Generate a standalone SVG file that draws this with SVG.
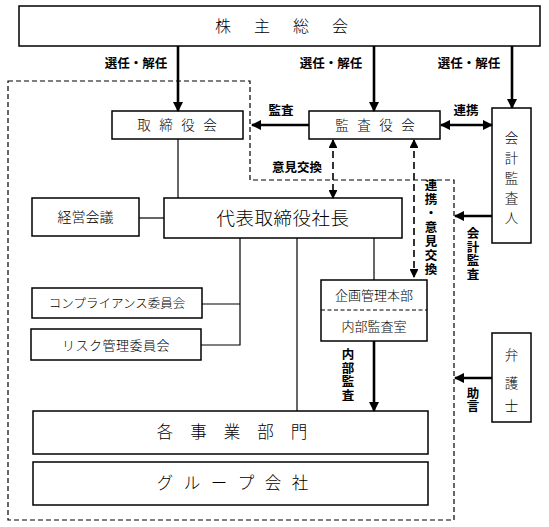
<svg xmlns="http://www.w3.org/2000/svg" width="549" height="527" viewBox="0 0 549 527">
<style>
.box{fill:#fff;stroke:#000;stroke-width:1.5}
.nt{font-family:"Noto Sans CJK JP","Noto Sans",sans-serif;font-weight:300;fill:#000}
.lb{font-family:"Noto Sans CJK JP","Noto Sans",sans-serif;font-weight:700;font-size:12.5px;fill:#000}
.vt{writing-mode:vertical-rl;text-orientation:upright}
.thin{stroke:#000;stroke-width:1.2;fill:none}
.thick{stroke:#000;stroke-width:2.6;fill:none}
.dash{stroke:#000;stroke-width:1.6;fill:none;stroke-dasharray:7,4}
.outline{stroke:#000;stroke-width:1.2;fill:none;stroke-dasharray:5,3}
</style>
<defs>
<marker id="ah" viewBox="0 0 10 10" refX="9" refY="5" markerWidth="4" markerHeight="4" orient="auto-start-reverse" markerUnits="strokeWidth"><path d="M0,0 L10,5 L0,10 z" fill="#000"/></marker>
<marker id="ahd" viewBox="0 0 10 10" refX="9" refY="5" markerWidth="5.5" markerHeight="5.5" orient="auto-start-reverse" markerUnits="strokeWidth"><path d="M0,0 L10,5 L0,10 z" fill="#000"/></marker>
</defs>

<path class="outline" d="M8,81 H250 V180 H454 V520 H8 Z"/>

<g id="kabunushi"><rect class="box" x="19" y="6" width="521" height="40"/><text class="nt" font-size="16" x="223 262 301 340" y="32" text-anchor="middle">株主総会</text></g>
<g id="torishimariyakukai"><rect class="box" x="112" y="111" width="131" height="28"/><text class="nt" font-size="13.5" x="144 166 188 210" y="130" text-anchor="middle">取締役会</text></g>
<g id="kansayakukai"><rect class="box" x="309" y="111" width="131" height="28"/><text class="nt" font-size="13.5" x="342 364 386 408" y="130" text-anchor="middle">監査役会</text></g>
<g id="kaikeikansanin"><rect class="box" x="492" y="108" width="39" height="135"/><text class="nt" font-size="13.5" text-anchor="middle"><tspan x="511.5" y="143">会</tspan><tspan x="511.5" y="163">計</tspan><tspan x="511.5" y="183">監</tspan><tspan x="511.5" y="203">査</tspan><tspan x="511.5" y="223">人</tspan></text></g>
<g id="keieikaigi"><rect class="box" x="32" y="198" width="107" height="38"/><text class="nt" font-size="14" x="85.5" y="222" text-anchor="middle">経営会議</text></g>
<g id="daihyo"><rect class="box" x="164" y="198" width="238" height="40"/><text class="nt" font-size="18.5" x="283" y="225" text-anchor="middle" letter-spacing="0.5">代表取締役社長</text></g>
<g id="compliance"><rect class="box" x="32" y="288" width="170" height="30"/><text class="nt" font-size="12.5" x="117" y="308" text-anchor="middle">コンプライアンス委員会</text></g>
<g id="risk"><rect class="box" x="31" y="329" width="170" height="31"/><text class="nt" font-size="13" x="116" y="349.5" text-anchor="middle" letter-spacing="0.5">リスク管理委員会</text></g>
<g id="kikaku"><rect class="box" x="321" y="280" width="106" height="61"/><line x1="321" y1="310" x2="427" y2="310" stroke="#000" stroke-width="1.2" stroke-dasharray="4,2.5"/><text class="nt" font-size="13" x="374" y="300" text-anchor="middle">企画管理本部</text><text class="nt" font-size="13" x="374" y="331" text-anchor="middle">内部監査室</text></g>
<g id="jigyobumon"><rect class="box" x="33" y="411" width="395" height="43"/><text class="nt" font-size="16.5" x="165 198.5 232 265.5 299" y="438" text-anchor="middle">各事業部門</text></g>
<g id="group"><rect class="box" x="33" y="462" width="395" height="43"/><text class="nt" font-size="16.5" x="165 192 219 246 273 300" y="489" text-anchor="middle">グループ会社</text></g>
<g id="bengoshi"><rect class="box" x="492" y="333" width="39" height="89"/><text class="nt" font-size="13.5" text-anchor="middle"><tspan x="511.5" y="360">弁</tspan><tspan x="511.5" y="388">護</tspan><tspan x="511.5" y="411">士</tspan></text></g>

<g id="connectors">
<line class="thick" x1="178" y1="46" x2="178" y2="111" marker-end="url(#ah)"/>
<line class="thick" x1="374" y1="46" x2="374" y2="111" marker-end="url(#ah)"/>
<line class="thick" x1="512" y1="46" x2="512" y2="108" marker-end="url(#ah)"/>
<line class="thick" x1="309" y1="125" x2="252" y2="125" marker-end="url(#ah)"/>
<line class="thick" x1="441" y1="125" x2="492" y2="125" marker-start="url(#ah)" marker-end="url(#ah)"/>
<line class="thick" x1="492" y1="216" x2="455" y2="216" marker-end="url(#ah)"/>
<line class="thick" x1="492" y1="378" x2="455" y2="378" marker-end="url(#ah)"/>
<line class="thick" x1="374" y1="341" x2="374" y2="411" marker-end="url(#ah)"/>
<line class="dash" x1="333" y1="140" x2="333" y2="198" marker-start="url(#ahd)" marker-end="url(#ahd)"/>
<line class="dash" x1="414" y1="140" x2="414" y2="277" marker-start="url(#ahd)" marker-end="url(#ahd)"/>
<line class="thin" x1="178" y1="139" x2="178" y2="198"/>
<line class="thin" x1="139" y1="218" x2="164" y2="218"/>
<polyline class="thin" points="240,238 240,345 201,345"/>
<line class="thin" x1="202" y1="304" x2="240" y2="304"/>
<line class="thin" x1="297" y1="238" x2="297" y2="411"/>
<line class="thin" x1="374" y1="238" x2="374" y2="280"/>
<text class="lb" x="136" y="68" text-anchor="middle">選任・解任</text>
<text class="lb" x="331" y="68" text-anchor="middle">選任・解任</text>
<text class="lb" x="469" y="68" text-anchor="middle">選任・解任</text>
<text class="lb" x="281" y="115" text-anchor="middle">監査</text>
<text class="lb" x="466" y="115" text-anchor="middle">連携</text>
<text class="lb" x="297" y="172" text-anchor="middle">意見交換</text>
<text class="lb vt" x="431" y="228" text-anchor="middle" letter-spacing="1.5">連携・意見交換</text>
<text class="lb vt" x="473" y="254" text-anchor="middle" letter-spacing="1">会計監査</text>
<text class="lb vt" x="473" y="400" text-anchor="middle" letter-spacing="1">助言</text>
<text class="lb vt" x="348" y="375" text-anchor="middle" letter-spacing="1">内部監査</text>
</g>
</svg>
